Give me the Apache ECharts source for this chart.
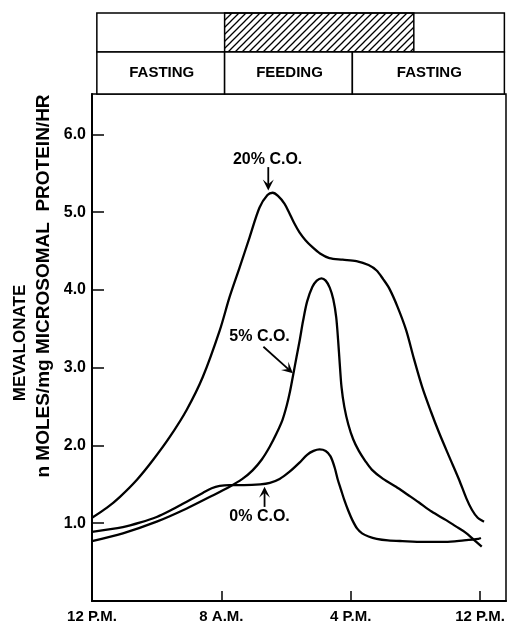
<!DOCTYPE html>
<html><head><meta charset="utf-8">
<script src="https://cdn.jsdelivr.net/npm/echarts@6/dist/echarts.min.js"></script>
<style>html,body{margin:0;padding:0;background:#fff}#c{width:508px;height:626px}</style>
</head><body><div id="c"></div>
<script>
// hours since midnight ("12 P.M." in the original) ; values in nmoles/mg microsomal protein/hr
const xTickHours = [0, 8, 16, 24];
const xTickLabels = ['12 P.M.', '8 A.M.', '4 P.M.', '12 P.M.'];
const yTickValues = [1, 2, 3, 4, 5, 6];

const co20 = [[0,1.07],[0.93,1.2],[1.73,1.34],[2.78,1.56],[3.76,1.81],[4.81,2.11],[5.86,2.46],[6.85,2.88],[7.9,3.48],[8.51,3.91],[9.13,4.29],[9.75,4.68],[10.36,5.06],[10.85,5.22],[11.17,5.25],[11.5,5.21],[11.9,5.11],[12.2,4.99],[12.5,4.86],[12.83,4.74],[13.2,4.64],[13.63,4.55],[14.1,4.47],[14.68,4.41],[15.5,4.39],[16.35,4.37],[17.1,4.32],[17.6,4.25],[18.0,4.14],[18.38,4.02],[18.9,3.78],[19.43,3.48],[19.9,3.12],[20.42,2.75],[20.95,2.44],[21.47,2.16],[22.1,1.85],[22.7,1.56],[23.15,1.32],[23.5,1.17],[23.85,1.07],[24.24,1.02]];
const co5 = [[0,0.77],[1.91,0.87],[4.0,1.02],[5.86,1.19],[7.3,1.34],[8.51,1.47],[9.3,1.57],[9.93,1.68],[10.5,1.82],[10.98,1.98],[11.4,2.15],[11.78,2.33],[12.05,2.52],[12.25,2.7],[12.45,2.92],[12.65,3.14],[12.85,3.36],[13.05,3.6],[13.3,3.85],[13.63,4.04],[13.9,4.12],[14.19,4.15],[14.45,4.12],[14.7,4.03],[14.92,3.88],[15.1,3.65],[15.22,3.35],[15.32,3.05],[15.43,2.75],[15.6,2.5],[15.85,2.27],[16.15,2.08],[16.5,1.93],[16.9,1.8],[17.3,1.69],[18.0,1.57],[18.8,1.47],[19.5,1.37],[20.2,1.27],[21.0,1.15],[21.9,1.04],[22.5,0.96],[23.1,0.88],[23.6,0.79],[24.1,0.7]];
const co0 = [[0,0.89],[1.91,0.95],[3.0,1.01],[4.0,1.08],[4.81,1.16],[6.05,1.3],[6.85,1.39],[7.4,1.45],[7.9,1.48],[8.5,1.49],[9.4,1.49],[10.4,1.5],[11.0,1.52],[11.6,1.57],[12.2,1.66],[12.83,1.78],[13.3,1.88],[13.7,1.93],[14.07,1.95],[14.45,1.93],[14.75,1.86],[15.0,1.72],[15.2,1.56],[15.4,1.43],[15.6,1.3],[15.85,1.16],[16.1,1.04],[16.4,0.93],[16.7,0.87],[17.1,0.83],[17.6,0.8],[18.3,0.78],[19.2,0.77],[20.5,0.76],[21.85,0.76],[23.0,0.78],[23.9,0.8],[24.05,0.81]];

const phaseLabels = ['FASTING', 'FEEDING', 'FASTING'];
const phaseBounds = [0.3, 8.2, 16.1, 25.5];   // hours
const feedingBar = [8.2, 19.9];               // hatched span, hours

const curveLabels = [
  {text: '20% C.O.', at: [10.86, 5.68], arrowFrom: [10.9, 5.58], arrowTo: [10.9, 5.28]},
  {text: '5% C.O.',  at: [10.36, 3.40], arrowFrom: [10.6, 3.27], arrowTo: [12.42, 2.93]},
  {text: '0% C.O.',  at: [10.36, 1.08], arrowFrom: [10.67, 1.21], arrowTo: [10.67, 1.47]}
];

const chart = echarts.init(document.getElementById('c'));
const FONT = 'Liberation Sans, Arial, sans-serif';
const lineSeries = (name, data) => ({
  name, type: 'line', data, smooth: 0.3, symbol: 'none',
  lineStyle: {color: '#000', width: 2.3}, z: 3
});

chart.setOption({
  animation: false,
  backgroundColor: '#fff',
  grid: {left: 92, top: 94, width: 415, height: 507, show: true, borderColor: '#000', borderWidth: 1.5},
  xAxis: {
    type: 'value', min: 0, max: 25.6, interval: 8,
    axisLine: {show: true, lineStyle: {color: '#000', width: 2}},
    axisTick: {show: true, inside: true, length: 10, lineStyle: {color: '#000', width: 1.5},
      customValues: xTickHours},
    axisLabel: {color: '#000', fontFamily: FONT, fontWeight: 'bold', fontSize: 15, margin: 8,
      customValues: xTickHours,
      formatter: v => { const i = xTickHours.indexOf(v); return i >= 0 ? xTickLabels[i] : ''; }},
    splitLine: {show: false}
  },
  yAxis: {
    type: 'value', min: 0, max: 6.52, interval: 1,
    axisLine: {show: true, lineStyle: {color: '#000', width: 2}},
    axisTick: {show: true, inside: true, length: 12, lineStyle: {color: '#000', width: 1.5},
      customValues: yTickValues},
    axisLabel: {color: '#000', fontFamily: FONT, fontWeight: 'bold', fontSize: 16, margin: 6,
      customValues: yTickValues, formatter: v => v.toFixed(1)},
    splitLine: {show: false}
  },
  series: [lineSeries('20% C.O.', co20), lineSeries('5% C.O.', co5), lineSeries('0% C.O.', co0)]
});

// hatch pattern
const pc = document.createElement('canvas'); pc.width = 7; pc.height = 7;
const g = pc.getContext('2d'); g.strokeStyle = '#000'; g.lineWidth = 1.3;
g.beginPath();
g.moveTo(-1, 8); g.lineTo(8, -1);
g.moveTo(-1, 1); g.lineTo(1, -1);
g.moveTo(6, 8); g.lineTo(8, 6);
g.stroke();

const px = (h, v) => chart.convertToPixel({gridIndex: 0}, [h, v]);
const X = h => px(h, 0)[0];
const row1Top = 13, row1Bot = 52, row2Bot = 94;
const elems = [];
elems.push({type: 'rect', shape: {x: X(phaseBounds[0]), y: row1Top, width: X(phaseBounds[3]) - X(phaseBounds[0]), height: row1Bot - row1Top},
  style: {fill: '#fff', stroke: '#000', lineWidth: 1.5}});
elems.push({type: 'rect', shape: {x: X(feedingBar[0]), y: row1Top, width: X(feedingBar[1]) - X(feedingBar[0]), height: row1Bot - row1Top},
  style: {fill: {image: pc, repeat: 'repeat'}, stroke: '#000', lineWidth: 1.5}});
for (let i = 0; i < phaseLabels.length; i++) {
  const x0 = X(phaseBounds[i]), x1 = X(phaseBounds[i + 1]);
  elems.push({type: 'rect', shape: {x: x0, y: row1Bot, width: x1 - x0, height: row2Bot - row1Bot},
    style: {fill: '#fff', stroke: '#000', lineWidth: 1.5}});
  elems.push({type: 'text', x: (x0 + x1) / 2 + 1, y: (row1Bot + row2Bot) / 2,
    style: {text: phaseLabels[i], fill: '#000', font: 'bold 15px ' + FONT, align: 'center', verticalAlign: 'middle'}});
}
elems.push({type: 'text', x: 20, y: 343, rotation: Math.PI / 2,
  style: {text: 'MEVALONATE', fill: '#000', font: 'bold 17px ' + FONT, align: 'center', verticalAlign: 'middle'}});
elems.push({type: 'text', x: 44, y: 286, rotation: Math.PI / 2,
  style: {text: 'n MOLES/mg MICROSOMAL  PROTEIN/HR', fill: '#000', font: 'bold 19px ' + FONT, align: 'center', verticalAlign: 'middle'}});
curveLabels.forEach(c => {
  const p = px(c.at[0], c.at[1]);
  elems.push({type: 'text', x: p[0], y: p[1], z: 10,
    style: {text: c.text, fill: '#000', font: 'bold 16px ' + FONT, align: 'center', verticalAlign: 'middle'}});
  const a = px(c.arrowFrom[0], c.arrowFrom[1]), b = px(c.arrowTo[0], c.arrowTo[1]);
  const dx = b[0] - a[0], dy = b[1] - a[1], L = Math.hypot(dx, dy), ux = dx / L, uy = dy / L;
  const hl = 11, hw = 5.5;
  const base = [b[0] - ux * hl, b[1] - uy * hl];
  const notch = [b[0] - ux * hl * 0.55, b[1] - uy * hl * 0.55];
  elems.push({type: 'line', z: 10, shape: {x1: a[0], y1: a[1], x2: notch[0], y2: notch[1]}, style: {stroke: '#000', lineWidth: 1.8}});
  elems.push({type: 'polygon', z: 10, shape: {points: [
    [b[0], b[1]], [base[0] - uy * hw, base[1] + ux * hw], notch, [base[0] + uy * hw, base[1] - ux * hw]]},
    style: {fill: '#000'}});
});
chart.setOption({graphic: elems});
</script>
</body></html>
